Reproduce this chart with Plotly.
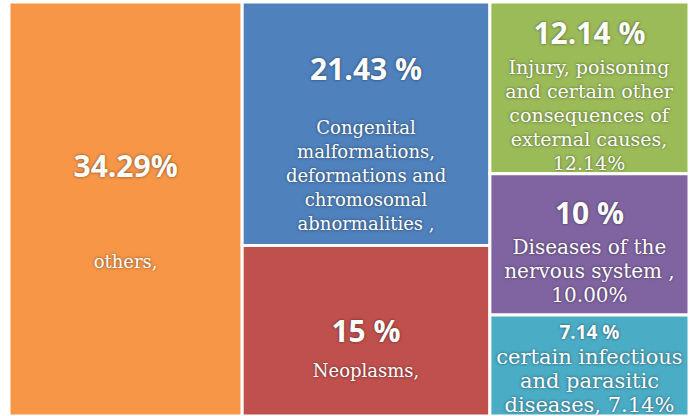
import plotly.graph_objects as go

# ---- data ----
categories = [
    "others,",
    "Congenital<br>malformations,<br>deformations and<br>chromosomal<br>abnormalities ,",
    "Neoplasms,",
    "Injury, poisoning<br>and certain other<br>consequences of<br>external causes,<br>12.14%",
    "Diseases of the<br>nervous system ,<br>10.00%",
    "certain infectious<br>and parasitic<br>diseases, 7.14%",
]
values = [34.29, 21.43, 15.00, 12.14, 10.00, 7.14]
pct_labels = ["34.29%", "21.43 %", "15 %", "12.14 %", "10 %", "7.14 %"]

# ---- style ----
colors = ["#F79646", "#4F81BD", "#C0504D", "#9BBB59", "#8064A2", "#4BACC6"]
pct_sizes = [30, 30, 30, 30, 30, 19]
lab_sizes = [18, 18, 18, 19, 20, 21]
pct_pad = [4, 5, 0, 5, 3, 3]     # blank lines below the percentage
lab_pad = [5, 5, 4, 3, 3, 2]     # blank lines above the label
BASE = 18.5
SHADOW = "0px 0px 3px rgba(0,0,0,0.55)"
DOT = "<span style='font-size:1px;color:rgba(0,0,0,0)'>.</span>"

def multi(txt, size):
    return "<br>".join(
        f"<span style='font-size:{size}px'>{line}</span>" for line in txt.split("<br>")
    )

pct_texts = []
lab_texts = []
for p, ps, pp, c, ls, lp in zip(pct_labels, pct_sizes, pct_pad, categories, lab_sizes, lab_pad):
    t = f"<span style='font-family:\"Open Sans\";font-size:{ps}px;font-weight:bold'>{p}</span>"
    if pp:
        t += "<br>" * pp + DOT
    pct_texts.append(t)
    lab_texts.append(DOT + "<br>" * lp + multi(c, ls))

ids = [f"n{i}" for i in range(len(values))]
common = dict(
    ids=ids,
    labels=pct_labels,
    parents=[""] * len(values),
    values=values,
    texttemplate="%{text}",
    textposition="middle center",
    sort=False,
    tiling=dict(packing="squarify", squarifyratio=1, pad=0),
    pathbar=dict(visible=False),
    hoverinfo="skip",
)

fig = go.Figure()
fig.add_trace(go.Treemap(
    text=lab_texts,
    textfont=dict(family="DejaVu Serif", size=BASE, color="white", shadow=SHADOW),
    marker=dict(colors=colors, line=dict(color="white", width=3),
                pad=dict(t=0, l=0, r=0, b=0)),
    **common,
))
fig.add_trace(go.Treemap(
    text=pct_texts,
    textfont=dict(family="Open Sans", size=BASE, color="white", shadow=SHADOW),
    marker=dict(colors=["rgba(0,0,0,0)"] * len(values),
                line=dict(color="rgba(0,0,0,0)", width=0),
                pad=dict(t=0, l=0, r=0, b=0)),
    **common,
))

fig.update_layout(
    width=689,
    height=416,
    margin=dict(l=9, r=0, t=2, b=0),
    paper_bgcolor="white",
    uniformtext=dict(minsize=BASE, mode="show"),
)

fig.write_html(
    "out.html",
    config={"displayModeBar": False},
    post_script="document.body.style.margin='0';document.body.style.overflow='hidden';",
)
